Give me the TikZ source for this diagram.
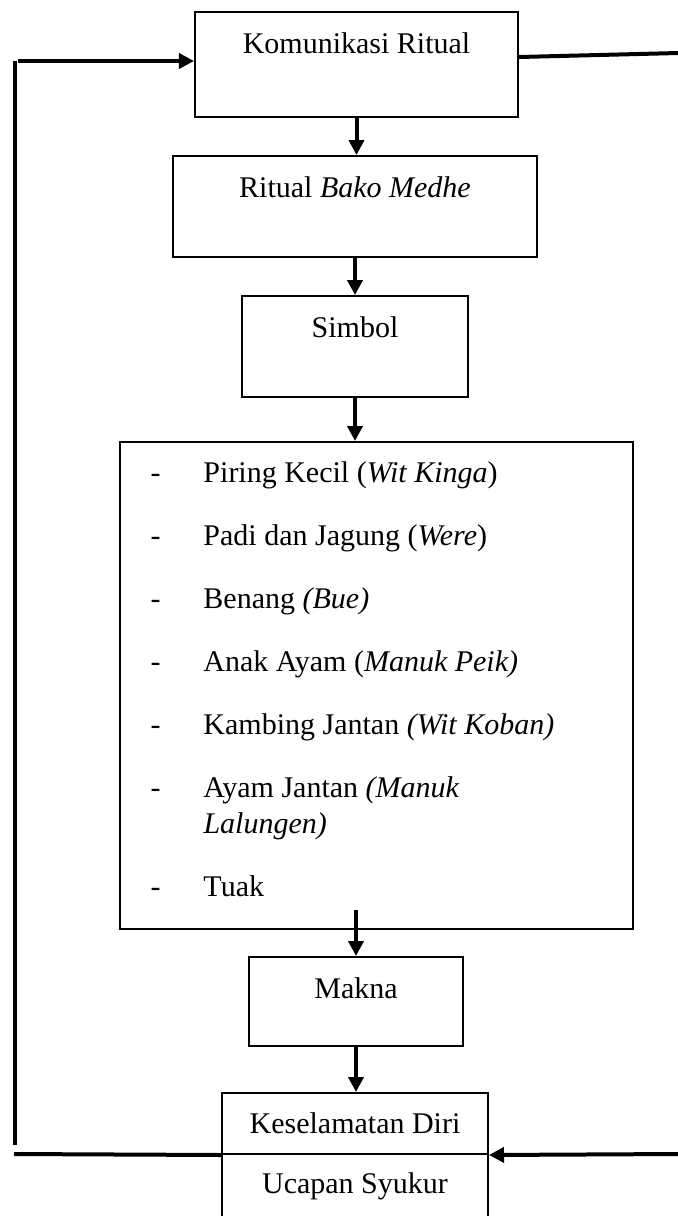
\documentclass[tikz,border=0pt,12pt]{standalone}
\usepackage{fontspec}
\setmainfont{Liberation Serif}
\usetikzlibrary{arrows.meta, positioning}

\tikzset{
	box/.style={draw, line width=0.8pt, inner sep=0pt, font=\fontsize{12}{14.5}\selectfont},
	boxtext/.style={anchor=base, yshift=-16.8pt, font=\fontsize{12}{14.5}\selectfont},
	conn/.style={line width=1.6pt, -{Triangle[length=6pt,width=6pt]}},
	feed/.style={line width=1.6pt},
}

\begin{document}
\begin{tikzpicture}[x=0.4pt, y=-0.4pt]
	\useasboundingbox (0,0) rectangle (678,1216);
	% boxes down the middle
	\node[box, minimum width=129.2pt, minimum height=42pt] (kom) at (356.5,64.5) {};
	\node[boxtext] (komtxt) at (kom.north) {Komunikasi Ritual};
	\node[box, minimum width=145.6pt, minimum height=40.4pt] (rit) at (355,206.5) {};
	\node[boxtext] (rittxt) at (rit.north) {Ritual \textit{Bako Medhe}};
	\node[box, minimum width=90.4pt, minimum height=40.4pt] (sim) at (355,346.5) {};
	\node[boxtext] (simtxt) at (sim.north) {Simbol};
	\node[box, minimum width=205.2pt, minimum height=194.8pt] (lst) at (376.5,685.5) {};
	\node[anchor=base west, inner sep=0pt, font=\fontsize{12}{14.5}\selectfont] (items) at (150,482) {%
		\begin{tabular}[t]{@{}p{21.2pt}@{}l@{}}
			- & Piring Kecil (\textit{Wit Kinga}) \\[10.7pt]
			- & Padi dan Jagung (\textit{Were}) \\[10.7pt]
			- & Benang \textit{(Bue)} \\[10.7pt]
			- & Anak Ayam (\textit{Manuk Peik)} \\[10.7pt]
			- & Kambing Jantan \textit{(Wit Koban)} \\[10.7pt]
			- & Ayam Jantan \textit{(Manuk} \\
			  & \textit{Lalungen)} \\[10.7pt]
			- & Tuak
		\end{tabular}};
	\node[box, minimum width=85.6pt, minimum height=35.6pt] (mak) at (356,1001.5) {};
	\node[boxtext] (maktxt) at (mak.north) {Makna};
	\node[box, minimum width=106.4pt, minimum height=24.4pt] (kes) at (355,1123.5) {Keselamatan Diri};
	\node[box, minimum width=106.4pt, minimum height=25.6pt] (uca) at (355,1186) {Ucapan Syukur};

	% free ends of the feedback lines
	\coordinate (lt) at (15,61);
	\coordinate (lb) at (15,1145);
	\coordinate (lh) at (14,1154);
	\coordinate (rt) at (678,53);
	\coordinate (rb) at (678,1154);

	\draw[conn] (kom.south) -- (kom.south |- rit.north);
	\draw[conn] (rit.south) -- (rit.south |- sim.north);
	\draw[conn] (sim.south) -- (sim.south |- lst.north);
	\draw[conn] ([yshift=8pt]mak.north |- lst.south) -- (mak.north);
	\draw[conn] (mak.south) -- (mak.south |- kes.north);

	\draw[feed] (lt) -- (lb);
	\draw[conn] ([xshift=1.2pt]lt) -- (lt -| kom.west);
	\draw[feed] (lh) -- (kes.south west);
	\draw[feed] ([yshift=3pt]kom.east) -- (rt);
	\draw[conn] (rb) -- (kes.south east);
\end{tikzpicture}
\end{document}
